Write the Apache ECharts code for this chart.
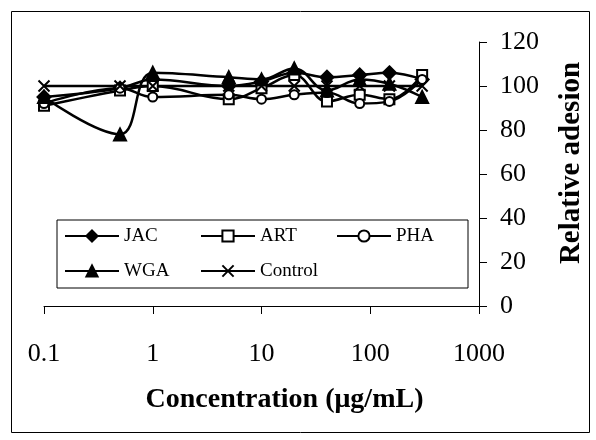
<!DOCTYPE html>
<html>
<head>
<meta charset="utf-8" />
<script src="https://cdn.jsdelivr.net/npm/echarts@6/dist/echarts.min.js"></script>
<style>
  html, body { margin: 0; padding: 0; background: #fff; }
  #main { width: 596px; height: 440px; }
</style>
</head>
<body>
<div id="main"></div>
<script type="text/javascript">
// concentration (ug/mL)
var conc = [0.1, 0.5, 1, 5, 10, 20, 40, 80, 150, 300];
var jac = [95, 99, 103, 100, 102, 106, 104, 105, 106, 103];
var art = [91, 98, 100, 94, 99, 105, 93, 96, 94, 105];
var pha = [92, 99, 95, 96, 94, 96, 97, 92, 93, 103];
var wga = [95, 78, 106, 104, 103, 108, 98, 103, 101, 95];
var control = [100, 100, 100, 100, 100, 100, 100, 100, 100, 100];
var xTicks = [0.1, 1, 10, 100, 1000];

var font = 'Liberation Serif';

function pairs(ys) {
    return conc.map(function (c, i) { return [c, ys[i]]; });
}

function makeSeries(name, ys, symbol, size, fill) {
    return {
        name: name,
        type: 'line',
        data: pairs(ys),
        smooth: 0.4,
        clip: false,
        symbol: symbol,
        symbolSize: size,
        showAllSymbol: true,
        lineStyle: { color: '#000', width: 2.5 },
        itemStyle: { color: fill, borderColor: '#000', borderWidth: 2 },
        emphasis: { disabled: true }
    };
}

var myChart = echarts.init(document.getElementById('main'));
var option = {
    animation: false,
    backgroundColor: '#fff',
    graphic: [{
        type: 'rect',
        shape: { x: 11.5, y: 11.5, width: 578, height: 421 },
        style: { fill: 'none', stroke: '#000', lineWidth: 1 },
        z: -1
    }],
    legend: {
        left: 57,
        top: 220,
        width: 440,
        padding: [6, 11, 7, 7],
        itemGap: 15,
        itemWidth: 54,
        itemHeight: 14,
        borderColor: '#000',
        borderWidth: 1,
        textStyle: { fontFamily: font, fontSize: 19, color: '#000', width: 61, lineHeight: 20 },
        data: ['JAC', 'ART', 'PHA', 'WGA', 'Control']
    },
    grid: { left: 44, right: 117, top: 42, bottom: 134 },
    xAxis: {
        type: 'log',
        logBase: 10,
        min: xTicks[0],
        max: xTicks[xTicks.length - 1],
        name: 'Concentration (μg/mL)',
        nameLocation: 'middle',
        nameGap: 80,
        nameTextStyle: {
            fontFamily: font, fontSize: 28, fontWeight: 'bold', color: '#000',
            verticalAlign: 'top', padding: [0, 0, 0, 46]
        },
        axisLine: { lineStyle: { color: '#000', width: 1 } },
        axisTick: { show: true, length: 8, lineStyle: { color: '#000' } },
        minorTick: { show: false },
        splitLine: { show: false },
        axisLabel: {
            fontFamily: font, fontSize: 26, color: '#000', margin: 35,
            formatter: function (v) { return String(+v.toPrecision(3)); }
        }
    },
    yAxis: {
        type: 'value',
        position: 'right',
        min: 0,
        max: 120,
        interval: 20,
        name: 'Relative adesion',
        nameLocation: 'middle',
        nameRotate: 90,
        nameGap: 78,
        nameTextStyle: {
            fontFamily: font, fontSize: 29, fontWeight: 'bold', color: '#000',
            padding: [0, 0, 0, 22]
        },
        axisLine: { show: true, lineStyle: { color: '#000', width: 1 } },
        axisTick: { show: true, length: 8, lineStyle: { color: '#000' } },
        splitLine: { show: false },
        axisLabel: { fontFamily: font, fontSize: 26, color: '#000', margin: 21 }
    },
    series: [
        makeSeries('JAC', jac, 'diamond', 13, '#000'),
        makeSeries('ART', art, 'rect', 10, '#fff'),
        makeSeries('PHA', pha, 'circle', 9, '#fff'),
        makeSeries('WGA', wga, 'triangle', 12, '#000'),
        makeSeries('Control', control, 'path://M0,0 L10,10 M10,0 L0,10', 11, '#000')
    ]
};
myChart.setOption(option);
</script>
</body>
</html>
